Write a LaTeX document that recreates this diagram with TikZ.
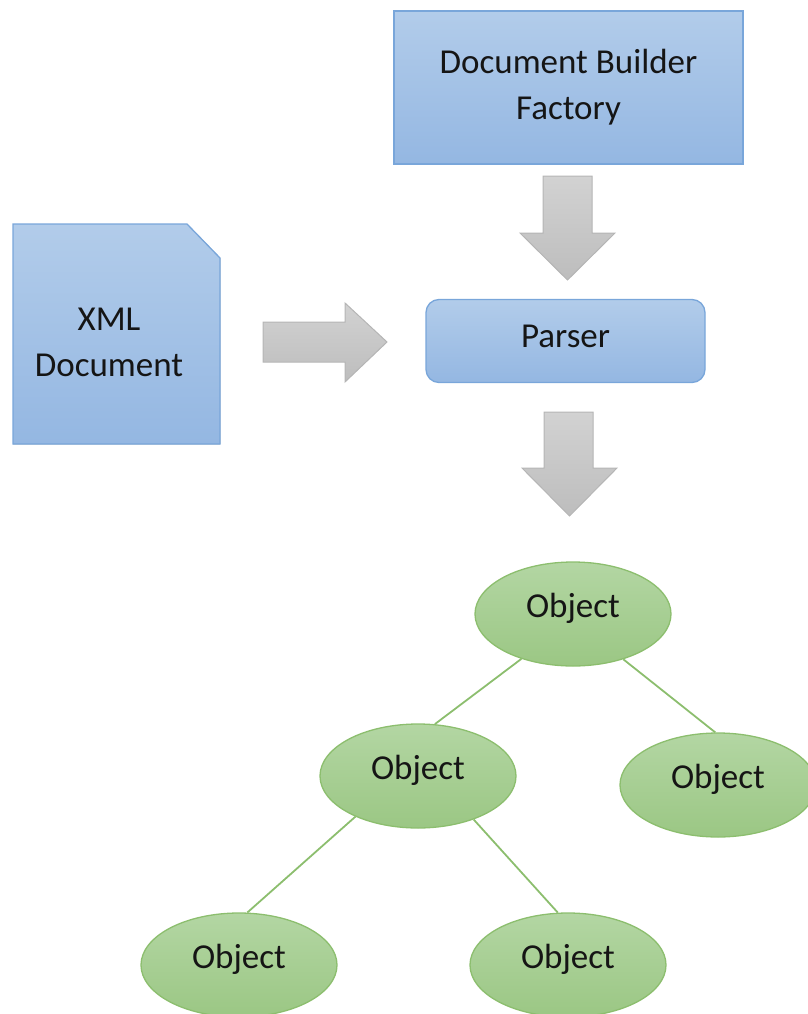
\documentclass[tikz,border=0pt]{standalone}
\usepackage{fontspec}
\setmainfont{Carlito}
\usetikzlibrary{shapes.geometric}
\definecolor{bluetop}{HTML}{B2CCEA}
\definecolor{bluebot}{HTML}{94B7E2}
\definecolor{blueline}{HTML}{79A6DA}
\definecolor{greentop}{HTML}{B3D6A3}
\definecolor{greenbot}{HTML}{9BC784}
\definecolor{greenline}{HTML}{8CBE6E}
\definecolor{graytop}{HTML}{D2D2D2}
\definecolor{graybot}{HTML}{BDBDBD}
\definecolor{grayline}{HTML}{B5B5B5}
\definecolor{ink}{HTML}{151515}
\tikzset{
  every node/.style={text=ink, font=\fontsize{35}{46}\selectfont},
  bluebox/.style={draw=blueline, line width=1.3pt, top color=bluetop, bottom color=bluebot,
    align=center, inner sep=0pt},
  obj/.style={ellipse, draw=greenline, line width=1.3pt, top color=greentop, bottom color=greenbot,
    minimum width=196pt, minimum height=104pt, inner sep=0pt},
  objlabel/.style={label={[yshift=6pt]center:Object}},
  blockarrow/.style={draw=grayline, line width=1pt, top color=graytop, bottom color=graybot},
  branch/.style={draw=greenline, line width=1.8pt},
}
\begin{document}
\begin{tikzpicture}[x=1pt, y=-1pt]
\useasboundingbox (0,0) rectangle (807,1014);

% factory box
\node[bluebox, minimum width=349pt, minimum height=153pt] (dbf) at (568.5,87.5)
  {Document Builder\\Factory};

% parser box
\node[bluebox, rounded corners=13pt, minimum width=279pt, minimum height=83pt] (parser) at (565.5,341)
  {\raisebox{10pt}{Parser}};

% XML document sheet with folded corner
\fill[top color=bluetop, bottom color=bluebot] (13,224) -- (187,224) -- (220,258) -- (220,444) -- (13,444) -- cycle;
\draw[blueline, line width=1.3pt, line join=miter] (13,224) -- (187,224) -- (220,258) -- (220,444) -- (13,444) -- cycle;
\node[align=center, inner sep=0pt] (xml) at (109,342) {XML\\Document};

% block arrows
\path[blockarrow] (543,176) -- (592,176) -- (592,233) -- (615,233) -- (567.5,280)
  -- (520,233) -- (543,233) -- cycle;
\path[blockarrow] (263,322) -- (345,322) -- (345,303) -- (387,342) -- (345,382)
  -- (345,362) -- (263,362) -- cycle;
\path[blockarrow] (544,412) -- (593,412) -- (593,468) -- (617,468) -- (569.5,516)
  -- (522,468) -- (544,468) -- cycle;

% object tree
\node[obj, objlabel] (o1) at (573,614) {};
\node[obj, objlabel] (o2) at (418,776) {};
\node[obj, objlabel] (o3) at (718,785) {};
\node[obj, objlabel] (o4) at (239,965) {};
\node[obj, objlabel] (o5) at (568,965) {};

\draw[branch] (o1.221) -- (o2.72);
\draw[branch] (o1.318) -- (o3.93);
\draw[branch] (o2.213) -- (o4.81);
\draw[branch] (o2.322) -- (o5.101);
\end{tikzpicture}
\end{document}
